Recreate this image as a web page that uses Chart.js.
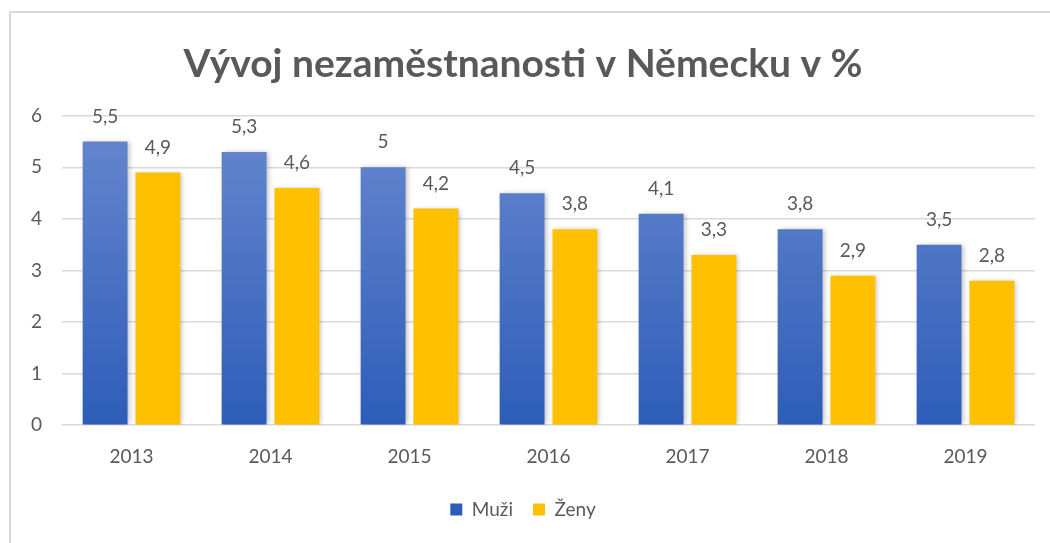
<!DOCTYPE html>
<html>
<head>
<meta charset="utf-8">
<script src="https://cdn.jsdelivr.net/npm/chart.js@4/dist/chart.umd.min.js"></script>
<style>
  html, body { margin: 0; padding: 0; background: #fff; }
  #wrap { position: relative; width: 1050px; height: 543px; }
</style>
</head>
<body>
<div id="wrap"><canvas id="barChart"></canvas></div>
<script>
// Data
const years = ["2013", "2014", "2015", "2016", "2017", "2018", "2019"];
const muzi = [5.5, 5.3, 5.0, 4.5, 4.1, 3.8, 3.5];
const zeny = [4.9, 4.6, 4.2, 3.8, 3.3, 2.9, 2.8];
const yTicks = [0, 1, 2, 3, 4, 5, 6];

const textColor = "#595959";
const fontFamily = "Lato, 'Open Sans', sans-serif";

// Blue bars get a vertical gradient like the Office style
function blueGradient(context) {
    const chart = context.chart;
    const area = chart.chartArea;
    if (!area) return "#4472C4";
    const g = chart.ctx.createLinearGradient(0, area.top, 0, area.bottom);
    g.addColorStop(0, "#6888CF");
    g.addColorStop(1, "#2D5DB8");
    return g;
}

// Frame lines (top and left) around the chart
const framePlugin = {
    id: "frame",
    beforeDraw(chart) {
        const ctx = chart.ctx;
        ctx.save();
        ctx.strokeStyle = "#d9d9d9";
        ctx.lineWidth = 2;
        ctx.beginPath();
        ctx.moveTo(10, 543);
        ctx.lineTo(10, 12);
        ctx.lineTo(1050, 12);
        ctx.stroke();
        ctx.restore();
    }
};

// Soft shadow behind the bars
const shadowPlugin = {
    id: "barShadow",
    beforeDatasetsDraw(chart) {
        const ctx = chart.ctx;
        ctx.save();
        ctx.shadowColor = "rgba(0,0,0,0.25)";
        ctx.shadowBlur = 5;
        ctx.shadowOffsetX = 2;
        ctx.shadowOffsetY = 0;
    },
    afterDatasetsDraw(chart) {
        chart.ctx.restore();
    }
};

// Value labels above each bar, with decimal comma
const valueLabels = {
    id: "valueLabels",
    afterDatasetsDraw(chart) {
        const ctx = chart.ctx;
        ctx.save();
        ctx.font = "19px " + fontFamily;
        ctx.fillStyle = textColor;
        ctx.textAlign = "center";
        ctx.textBaseline = "middle";
        chart.data.datasets.forEach((ds, i) => {
            chart.getDatasetMeta(i).data.forEach((bar, j) => {
                const txt = String(ds.data[j]).replace(".", ",");
                ctx.fillText(txt, bar.x, bar.y - 25);
            });
        });
        ctx.restore();
    }
};

const ctx = document.getElementById("barChart").getContext("2d");

new Chart(ctx, {
    type: "bar",
    data: {
        labels: years,
        datasets: [
            {
                label: "Muži",
                data: muzi,
                backgroundColor: blueGradient,
                borderWidth: 0
            },
            {
                label: "Ženy",
                data: zeny,
                backgroundColor: "#FFC000",
                borderWidth: 0
            }
        ]
    },
    options: {
        responsive: true,
        maintainAspectRatio: false,
        animation: false,
        categoryPercentage: 0.76,
        barPercentage: 0.85,
        layout: {
            padding: { top: 41, left: 11, right: 15, bottom: 14 }
        },
        plugins: {
            title: {
                display: true,
                text: "Vývoj nezaměstnanosti v Německu v %",
                color: textColor,
                font: { family: fontFamily, size: 39, weight: "bold" },
                padding: { top: 0, bottom: 28 }
            },
            legend: {
                position: "bottom",
                labels: {
                    color: textColor,
                    font: { family: fontFamily, size: 19 },
                    boxWidth: 12,
                    boxHeight: 12,
                    padding: 20
                }
            },
            tooltip: { enabled: false }
        },
        scales: {
            x: {
                grid: { display: false },
                border: { display: false },
                ticks: {
                    color: textColor,
                    font: { family: fontFamily, size: 19 },
                    padding: 12
                }
            },
            y: {
                min: 0,
                max: 6,
                afterBuildTicks(axis) {
                    axis.ticks = yTicks.map(v => ({ value: v }));
                },
                grid: { color: "#d9d9d9", lineWidth: 1.5, drawTicks: false },
                border: { display: false },
                ticks: {
                    color: textColor,
                    font: { family: fontFamily, size: 19 },
                    padding: 20
                }
            }
        }
    },
    plugins: [framePlugin, shadowPlugin, valueLabels]
});
</script>
</body>
</html>
